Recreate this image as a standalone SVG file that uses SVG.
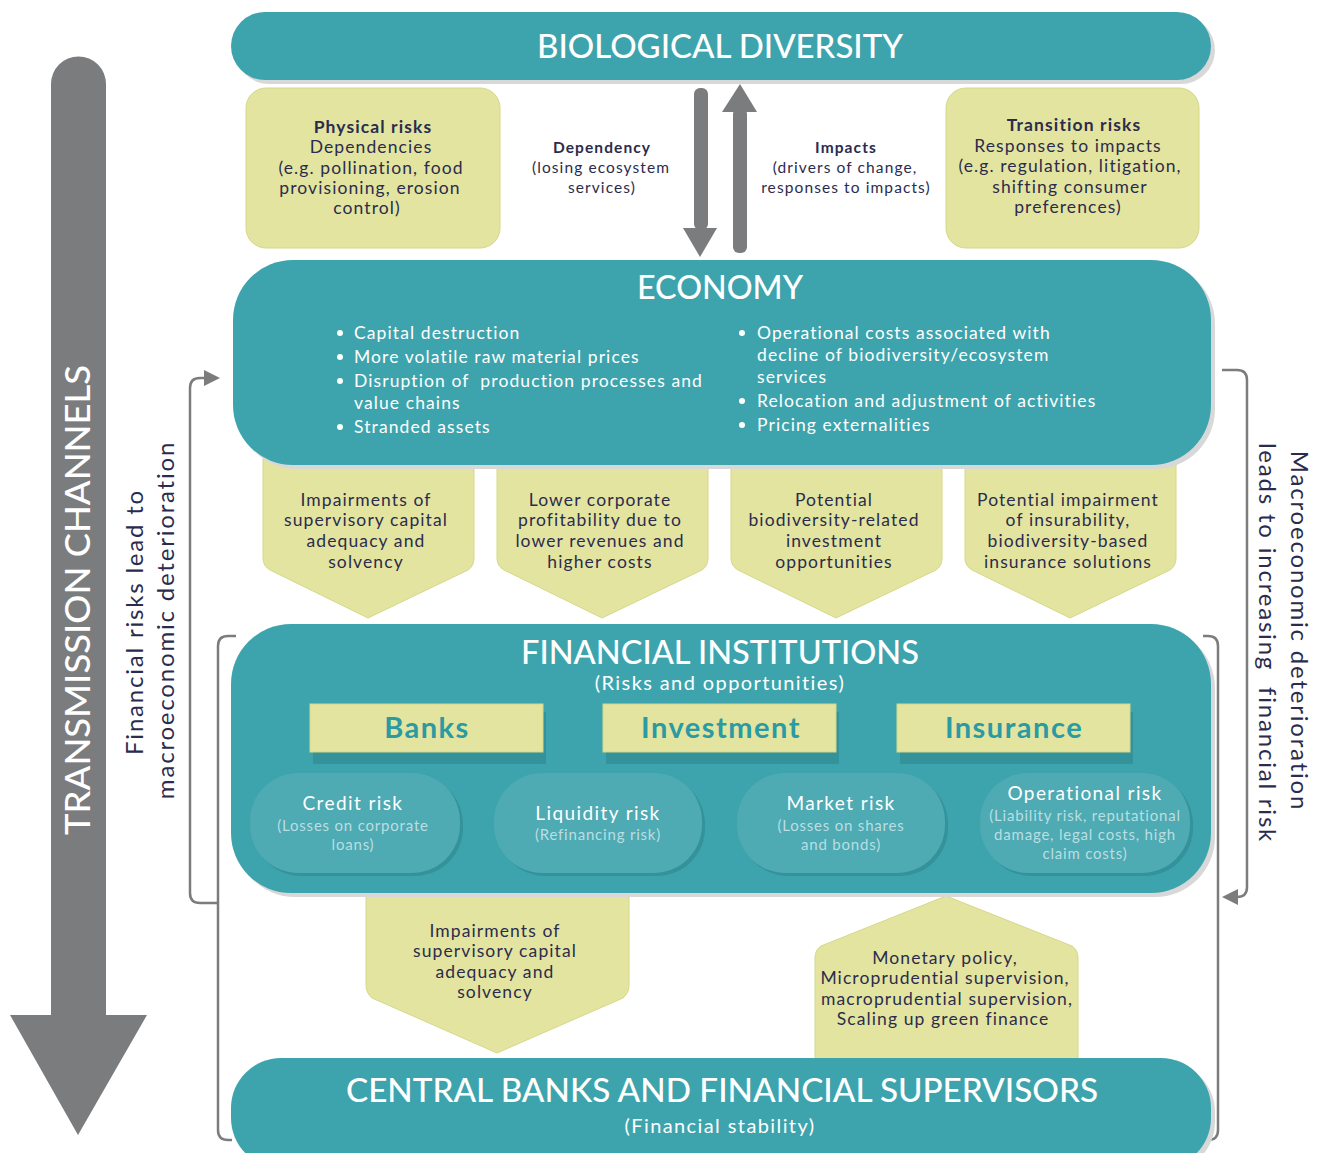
<svg xmlns="http://www.w3.org/2000/svg" width="1329" height="1153" viewBox="0 0 1329 1153">
<defs>
<style>
.teal{fill:#3da4ad}
.shadow{fill:#d8d8d8}
.yel{fill:#e3e4a0;stroke:#d5d889;stroke-width:1}
.t{font-family:Lato,"Noto Sans",sans-serif;fill:#2b2c4d;text-anchor:middle;letter-spacing:1.1px}
.tl{font-family:Lato,"Noto Sans",sans-serif;fill:#ffffff;letter-spacing:1.1px}
.h{font-family:Lato,"Noto Sans",sans-serif;fill:#ffffff;text-anchor:middle;font-weight:500}
.w{font-family:Lato,"Noto Sans",sans-serif;fill:#ffffff;text-anchor:middle;letter-spacing:1.4px}
.rot{font-family:Lato,"Noto Sans",sans-serif;fill:#2b2c4d;text-anchor:middle;letter-spacing:1.8px;font-size:24px}
.b{font-weight:bold}
.risk{fill:#4eaab3}
.riskSh{fill:#33929a}
.sub{font-family:Lato,"Noto Sans",sans-serif;fill:#b9dfe2;text-anchor:middle;font-size:15px;letter-spacing:0.8px}
.cat{font-family:Lato,"Noto Sans",sans-serif;fill:#2a9aa3;text-anchor:middle;font-size:29px;font-weight:bold;letter-spacing:1.5px}
.line{fill:none;stroke:#7b7c7e;stroke-width:2.5}
.gray{fill:#7b7c7e}
</style>
</defs>

<!-- Transmission channels arrow -->
<g id="transmission">
<path class="gray" d="M51,84 A27.5,27.5 0 0 1 106,84 L106,1015 L147,1015 L78,1135 L10,1015 L51,1015 Z"/>
<text class="h" font-size="34" transform="translate(90,600) rotate(-90)" textLength="470" lengthAdjust="spacingAndGlyphs">TRANSMISSION CHANNELS</text>
</g>

<!-- Connectors / brackets -->
<g id="connectors">
<path class="line" d="M218,903 L200,903 Q190,903 190,893 L190,388 Q190,378 200,378 L206,378"/>
<polygon class="gray" points="204,370 220,378 204,386"/>
<path class="line" d="M236,636 L228,636 Q218,636 218,646 L218,1130 Q218,1140 228,1140 L232,1140"/>
<path class="line" d="M1222,370 L1237,370 Q1247,370 1247,380 L1247,887 Q1247,897 1237,897 L1236,897"/>
<polygon class="gray" points="1238,889 1222,897 1238,905"/>
<path class="line" d="M1203,636 L1208,636 Q1218,636 1218,646 L1218,1130 Q1218,1140 1208,1140"/>
<!-- Dependency / impacts arrows -->
<rect class="gray" x="694" y="88" width="14" height="142" rx="6"/>
<polygon class="gray" points="683,228 717,228 700,257"/>
<rect class="gray" x="733" y="108" width="14" height="145" rx="6"/>
<polygon class="gray" points="722,112 757,112 740,84"/>
</g>

<text class="rot" transform="translate(143,622) rotate(-90)">Financial risks lead to</text>
<text class="rot" transform="translate(174,620) rotate(-90)">macroeconomic deterioration</text>
<text class="rot" transform="translate(1291,631) rotate(90)">Macroeconomic deterioration</text>
<text class="rot" transform="translate(1259,643) rotate(90)">leads to increasing&#160; financial risk</text>

<!-- Biological diversity -->
<g id="biodiversity">
<rect class="shadow" x="235" y="16" width="980" height="68" rx="34"/>
<rect class="teal" x="231" y="12" width="980" height="68" rx="34"/>
<text class="h" x="720" y="58" font-size="32" textLength="366" lengthAdjust="spacingAndGlyphs">BIOLOGICAL DIVERSITY</text>
</g>

<g id="physical">
<rect class="yel" x="246" y="88" width="254" height="160" rx="20"/>
<text class="t" font-size="17.5"><tspan x="373" y="133" class="b">Physical risks</tspan><tspan x="371" y="153">Dependencies</tspan><tspan x="371" y="174">(e.g. pollination, food</tspan><tspan x="370" y="194">provisioning, erosion</tspan><tspan x="367" y="214">control)</tspan></text>
</g>

<g id="dependency">
<text class="t" font-size="15.5"><tspan x="602" y="153" class="b">Dependency</tspan><tspan x="601" y="173">(losing ecosystem</tspan><tspan x="602" y="193">services)</tspan></text>
</g>
<g id="impacts">
<text class="t" font-size="15.5"><tspan x="846" y="153" class="b">Impacts</tspan><tspan x="845" y="173">(drivers of change,</tspan><tspan x="846" y="193">responses to impacts)</tspan></text>
</g>

<g id="transition">
<rect class="yel" x="946" y="88" width="253" height="160" rx="20"/>
<text class="t" font-size="17.5"><tspan x="1074" y="131" class="b">Transition risks</tspan><tspan x="1068" y="152">Responses to impacts</tspan><tspan x="1070" y="172">(e.g. regulation, litigation,</tspan><tspan x="1070" y="193">shifting consumer</tspan><tspan x="1068" y="213">preferences)</tspan></text>
</g>

<!-- Pentagons under economy -->
<g id="impairments1">
<path class="yel" d="M263,452 L474,452 L474,558 Q474,566 468,570 L368,618 L270,570 Q263,566 263,558 Z"/>
<text class="t" font-size="17.5"><tspan x="366" y="506">Impairments of</tspan><tspan x="366" y="526">supervisory capital</tspan><tspan x="366" y="547">adequacy and</tspan><tspan x="366" y="568">solvency</tspan></text>
</g>
<g id="profitability">
<path class="yel" d="M497,452 L708,452 L708,558 Q708,566 702,570 L602,618 L504,570 Q497,566 497,558 Z"/>
<text class="t" font-size="17.5"><tspan x="600" y="506">Lower corporate</tspan><tspan x="600" y="526">profitability due to</tspan><tspan x="600" y="547">lower revenues and</tspan><tspan x="600" y="568">higher costs</tspan></text>
</g>
<g id="opportunities">
<path class="yel" d="M731,452 L942,452 L942,558 Q942,566 936,570 L836,618 L738,570 Q731,566 731,558 Z"/>
<text class="t" font-size="17.5"><tspan x="834" y="506">Potential</tspan><tspan x="834" y="526">biodiversity-related</tspan><tspan x="834" y="547">investment</tspan><tspan x="834" y="568">opportunities</tspan></text>
</g>
<g id="insurability">
<path class="yel" d="M965,452 L1176,452 L1176,558 Q1176,566 1170,570 L1070,618 L972,570 Q965,566 965,558 Z"/>
<text class="t" font-size="17.5"><tspan x="1068" y="506">Potential impairment</tspan><tspan x="1068" y="526">of insurability,</tspan><tspan x="1068" y="547">biodiversity-based</tspan><tspan x="1068" y="568">insurance solutions</tspan></text>
</g>

<!-- Economy -->
<g id="economy">
<rect class="shadow" x="237" y="264" width="978" height="205" rx="60"/>
<rect class="teal" x="233" y="260" width="978" height="205" rx="60"/>
<text class="h" x="720" y="299" font-size="32" textLength="166" lengthAdjust="spacingAndGlyphs">ECONOMY</text>
<g fill="#ffffff">
<circle cx="340" cy="333" r="3"/><circle cx="340" cy="357" r="3"/><circle cx="340" cy="381" r="3"/><circle cx="340" cy="427" r="3"/>
<circle cx="742" cy="333" r="3"/><circle cx="742" cy="401" r="3"/><circle cx="742" cy="425" r="3"/>
</g>
<text class="tl" font-size="17.5"><tspan x="354" y="339">Capital destruction</tspan><tspan x="354" y="363">More volatile raw material prices</tspan><tspan x="354" y="387">Disruption of&#160; production processes and</tspan><tspan x="354" y="409">value chains</tspan><tspan x="354" y="433">Stranded assets</tspan></text>
<text class="tl" font-size="17.5"><tspan x="757" y="339">Operational costs associated with</tspan><tspan x="757" y="361">decline of biodiversity/ecosystem</tspan><tspan x="757" y="383">services</tspan><tspan x="757" y="407">Relocation and adjustment of activities</tspan><tspan x="757" y="431">Pricing externalities</tspan></text>
</g>

<!-- Bottom pentagons -->
<g id="impairments2">
<path class="yel" d="M366,880 L629,880 L629,985 Q629,993 623,998 L497,1053 L372,998 Q366,993 366,985 Z"/>
<text class="t" font-size="17.5"><tspan x="495" y="937">Impairments of</tspan><tspan x="495" y="957">supervisory capital</tspan><tspan x="495" y="978">adequacy and</tspan><tspan x="495" y="998">solvency</tspan></text>
</g>
<g id="policy">
<path class="yel" d="M815,1070 L815,958 Q815,950 821,946 L946,896 L1072,946 Q1078,950 1078,958 L1078,1070 Z"/>
<text class="t" font-size="17.5"><tspan x="945" y="964">Monetary policy,</tspan><tspan x="945" y="984">Microprudential supervision,</tspan><tspan x="947" y="1005">macroprudential supervision,</tspan><tspan x="943" y="1025">Scaling up green finance</tspan></text>
</g>

<!-- Financial institutions -->
<g id="financial">
<rect class="shadow" x="235" y="628" width="980" height="269" rx="60"/>
<rect class="teal" x="231" y="624" width="980" height="269" rx="60"/>
<text class="h" x="720" y="664" font-size="32" textLength="398" lengthAdjust="spacingAndGlyphs">FINANCIAL INSTITUTIONS</text>
<text class="w" x="720" y="690" font-size="20">(Risks and opportunities)</text>
</g>
<g id="banks">
<rect class="riskSh" x="313" y="712" width="233" height="52"/>
<rect class="yel" x="310" y="704" width="233" height="48" stroke="none"/>
<text class="cat" x="427" y="738">Banks</text>
</g>
<g id="investment">
<rect class="riskSh" x="606" y="712" width="233" height="52"/>
<rect class="yel" x="603" y="704" width="233" height="48" stroke="none"/>
<text class="cat" x="721" y="738">Investment</text>
</g>
<g id="insurance">
<rect class="riskSh" x="900" y="712" width="233" height="52"/>
<rect class="yel" x="897" y="704" width="233" height="48" stroke="none"/>
<text class="cat" x="1014" y="738">Insurance</text>
</g>
<g id="credit">
<rect class="riskSh" x="253" y="776" width="210" height="100" rx="48"/>
<rect class="risk" x="250" y="773" width="210" height="100" rx="48"/>
<text class="w" x="353" y="810" font-size="19">Credit risk</text>
<text class="sub"><tspan x="353" y="831">(Losses on corporate</tspan><tspan x="353" y="850">loans)</tspan></text>
</g>
<g id="liquidity">
<rect class="riskSh" x="497" y="776" width="208" height="100" rx="48"/>
<rect class="risk" x="494" y="773" width="208" height="100" rx="48"/>
<text class="w" x="598" y="820" font-size="19">Liquidity risk</text>
<text class="sub" x="598" y="840">(Refinancing risk)</text>
</g>
<g id="market">
<rect class="riskSh" x="740" y="776" width="208" height="100" rx="48"/>
<rect class="risk" x="737" y="773" width="208" height="100" rx="48"/>
<text class="w" x="841" y="810" font-size="19">Market risk</text>
<text class="sub"><tspan x="841" y="831">(Losses on shares</tspan><tspan x="841" y="850">and bonds)</tspan></text>
</g>
<g id="operational">
<rect class="riskSh" x="983" y="776" width="210" height="100" rx="48"/>
<rect class="risk" x="980" y="773" width="210" height="100" rx="48"/>
<text class="w" x="1085" y="800" font-size="19">Operational risk</text>
<text class="sub"><tspan x="1085" y="821">(Liability risk, reputational</tspan><tspan x="1085" y="840">damage, legal costs, high</tspan><tspan x="1085" y="859">claim costs)</tspan></text>
</g>

<!-- Central banks -->
<g id="central">
<rect class="shadow" x="235" y="1062" width="980" height="110" rx="50"/>
<rect class="teal" x="231" y="1058" width="980" height="110" rx="50"/>
<text class="h" x="722" y="1102" font-size="32" textLength="752" lengthAdjust="spacingAndGlyphs">CENTRAL BANKS AND FINANCIAL SUPERVISORS</text>
<text class="w" x="720" y="1133" font-size="20">(Financial stability)</text>
</g>
</svg>
